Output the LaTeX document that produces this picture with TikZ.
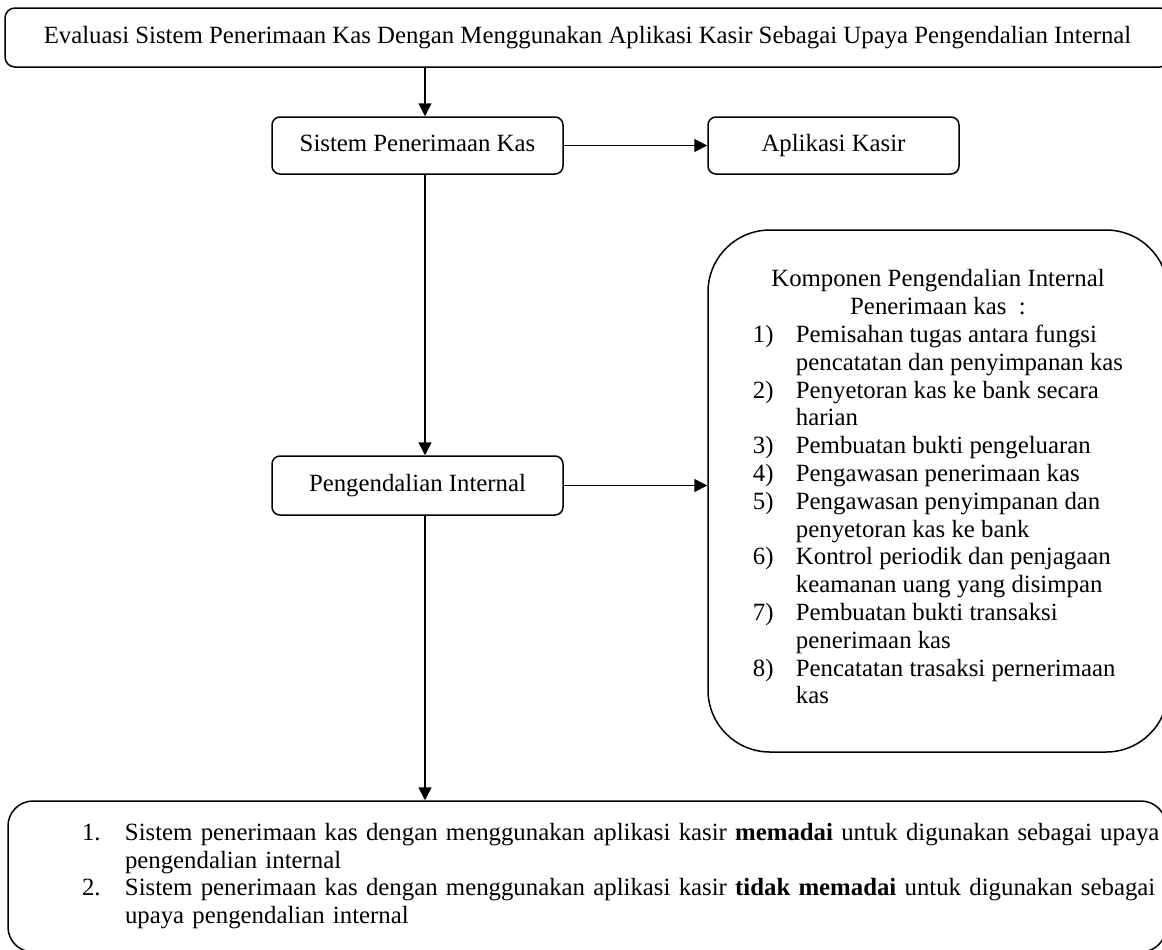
\documentclass[tikz,border=0pt]{standalone}
\usepackage{fontspec}
\setmainfont{Liberation Serif}
\usetikzlibrary{arrows.meta}

\begin{document}
\begin{tikzpicture}[>={Triangle[length=6.5pt,width=6.5pt]}, x=0.5pt, y=-0.5pt,
        kotak/.style={draw, line width=0.75pt, rounded corners=4pt, inner sep=0pt, font=\fontsize{12.4}{13.9}\selectfont},
        satu/.style={kotak, text height=8.6pt, text depth=2.8pt},
        panah/.style={->, line width=0.75pt}]
        \useasboundingbox (0,0) rectangle (1162,949);
        \clip (0,0) rectangle (1162,949);
        \coordinate (jalur) at (425,0);
        % kotak-kotak
        \node[satu, rounded corners=5pt, minimum width=582.5pt, minimum height=29.5pt] (judul) at (587.5,37.5)
            {Evaluasi Sistem Penerimaan Kas Dengan Menggunakan Aplikasi Kasir Sebagai Upaya Pengendalian Internal};
        \node[satu, minimum width=145.5pt, minimum height=28.5pt] (sistem) at (417.5,145.5) {Sistem Penerimaan Kas};
        \node[satu, minimum width=125.5pt, minimum height=28.5pt] (aplikasi) at (833.5,145.5) {Aplikasi Kasir};
        \node[satu, minimum width=145.5pt, minimum height=29.5pt] (pengendalian) at (417.5,485.5) {Pengendalian Internal};
        \node[kotak, rounded corners=31pt, minimum width=230pt, minimum height=261pt, align=center] (komponen) at (938,491)
            {Komponen Pengendalian Internal\\Penerimaan kas\ \ :\\
            \begin{tabular}[t]{@{}p{21.5pt}@{}l@{}}
                1) & Pemisahan tugas antara fungsi\\
                   & pencatatan dan penyimpanan kas\\
                2) & Penyetoran kas ke bank secara\\
                   & harian\\
                3) & Pembuatan bukti pengeluaran\\
                4) & Pengawasan penerimaan kas\\
                5) & Pengawasan penyimpanan dan\\
                   & penyetoran kas ke bank\\
                6) & Kontrol periodik dan penjagaan\\
                   & keamanan uang yang disimpan\\
                7) & Pembuatan bukti transaksi\\
                   & penerimaan kas\\
                8) & Pencatatan trasaksi pernerimaan\\
                   & kas
            \end{tabular}};
        \node[kotak, rounded corners=12.5pt, minimum width=579pt, minimum height=75.5pt, text width=568pt, align=left] (kesimpulan) at (587,876.5)
            {\begin{tabular}{@{\hspace{31.5pt}}p{21.5pt}@{}l@{}}
                1. & Sistem penerimaan kas dengan menggunakan aplikasi kasir \textbf{memadai} untuk digunakan sebagai upaya\\
                   & pengendalian internal\\
                2. & Sistem penerimaan kas dengan menggunakan aplikasi kasir \textbf{tidak memadai} untuk digunakan sebagai\\
                   & upaya pengendalian internal
            \end{tabular}};
        % panah
        \draw[panah] (judul.south -| jalur) -- (sistem.north -| jalur);
        \draw[panah] (sistem.east) -- (aplikasi.west);
        \draw[panah] (sistem.south -| jalur) -- (pengendalian.north -| jalur);
        \draw[panah] (pengendalian.east) -- (pengendalian.east -| komponen.west);
        \draw[panah] (pengendalian.south -| jalur) -- (kesimpulan.north -| jalur);
    \end{tikzpicture}
\end{document}
